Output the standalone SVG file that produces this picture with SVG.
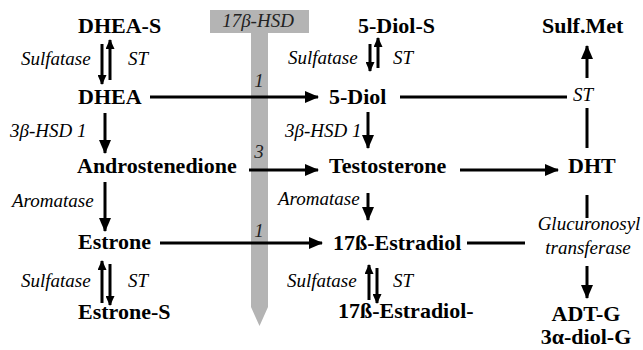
<svg xmlns="http://www.w3.org/2000/svg" width="643" height="350" viewBox="0 0 643 350">
  <defs>
    <marker id="head" markerUnits="userSpaceOnUse" markerWidth="14" markerHeight="12" refX="13" refY="6" orient="auto">
      <path d="M0,0 L14,6 L0,12 Z" fill="#000"/>
    </marker>
    <marker id="headSmall" markerUnits="userSpaceOnUse" markerWidth="10" markerHeight="9" refX="9" refY="4.5" orient="auto">
      <path d="M0,0 L10,4.5 L0,9 Z" fill="#000"/>
    </marker>
  </defs>

  <rect width="643" height="350" fill="#fff"/>

  <!-- 17beta-HSD band -->
  <g id="hsd17-band">
    <polygon points="210,10 309,10 309,33 268,33 268,307 259.5,326 251,307 251,33 210,33" fill="#b4b4b4"/>
    <text font-family="Liberation Serif" font-style="italic" font-size="19" fill="#222" text-anchor="middle" x="258" y="27">17β-HSD</text>
    <text font-family="Liberation Serif" font-style="italic" font-size="19" fill="#222" text-anchor="middle" x="259" y="87">1</text>
    <text font-family="Liberation Serif" font-style="italic" font-size="19" fill="#222" text-anchor="middle" x="259" y="158">3</text>
    <text font-family="Liberation Serif" font-style="italic" font-size="19" fill="#222" text-anchor="middle" x="259" y="237">1</text>
  </g>

  <!-- connectors -->
  <g id="connectors" stroke="#000" stroke-width="3" fill="none">
    <line marker-end="url(#head)" x1="150" y1="97" x2="318" y2="97"/>
    <line marker-end="url(#head)" x1="249" y1="170" x2="318" y2="170"/>
    <line marker-end="url(#head)" x1="160" y1="243" x2="322" y2="243"/>
    <line marker-end="url(#head)" x1="460" y1="170" x2="558" y2="170"/>
    <line x1="400" y1="97" x2="567" y2="97"/>
    <line x1="467" y1="243" x2="525" y2="243"/>
    <line marker-end="url(#head)" x1="105" y1="113" x2="105" y2="153"/>
    <line marker-end="url(#head)" x1="105" y1="182" x2="105" y2="231"/>
    <line marker-end="url(#head)" x1="368" y1="112" x2="368" y2="148"/>
    <line marker-end="url(#head)" x1="368" y1="193" x2="368" y2="220"/>
    <line marker-end="url(#head)" x1="587" y1="78" x2="587" y2="46"/>
    <line x1="587" y1="108" x2="587" y2="148"/>
    <line x1="587" y1="195" x2="587" y2="218"/>
    <line marker-end="url(#head)" x1="587" y1="266" x2="587" y2="298"/>
    <g marker-end="url(#headSmall)">
      <line x1="102" y1="44" x2="102" y2="84"/>
      <line x1="110" y1="80" x2="110" y2="40"/>
      <line x1="370" y1="44" x2="370" y2="71"/>
      <line x1="378" y1="68" x2="378" y2="38"/>
      <line x1="102" y1="303" x2="102" y2="261"/>
      <line x1="110" y1="264" x2="110" y2="305"/>
      <line x1="369" y1="300" x2="369" y2="265"/>
      <line x1="377" y1="268" x2="377" y2="303"/>
    </g>
  </g>

  <!-- enzyme labels -->
  <g id="enzymes">
    <text font-family="Liberation Serif" font-style="italic" font-size="19" x="21" y="65">Sulfatase</text>
    <text font-family="Liberation Serif" font-style="italic" font-size="19" x="128" y="65">ST</text>
    <text font-family="Liberation Serif" font-style="italic" font-size="19" x="288" y="64">Sulfatase</text>
    <text font-family="Liberation Serif" font-style="italic" font-size="19" x="393" y="64">ST</text>
    <text font-family="Liberation Serif" font-style="italic" font-size="19" x="10" y="137">3β-HSD 1</text>
    <text font-family="Liberation Serif" font-style="italic" font-size="19" x="285" y="137">3β-HSD 1</text>
    <text font-family="Liberation Serif" font-style="italic" font-size="19" x="12" y="207">Aromatase</text>
    <text font-family="Liberation Serif" font-style="italic" font-size="19" x="278" y="205">Aromatase</text>
    <text font-family="Liberation Serif" font-style="italic" font-size="19" x="21" y="287">Sulfatase</text>
    <text font-family="Liberation Serif" font-style="italic" font-size="19" x="128" y="287">ST</text>
    <text font-family="Liberation Serif" font-style="italic" font-size="19" x="287" y="287">Sulfatase</text>
    <text font-family="Liberation Serif" font-style="italic" font-size="19" x="393" y="287">ST</text>
    <text font-family="Liberation Serif" font-style="italic" font-size="19" x="573" y="101">ST</text>
    <text font-family="Liberation Serif" font-style="italic" font-size="19" x="589" y="230" text-anchor="middle">Glucuronosyl</text>
    <text font-family="Liberation Serif" font-style="italic" font-size="19" x="588" y="254" text-anchor="middle">transferase</text>
  </g>

  <!-- metabolites -->
  <g id="dhea-s"><text font-family="Liberation Serif" font-weight="bold" font-size="22" x="78" y="33">DHEA-S</text></g>
  <g id="dhea"><text font-family="Liberation Serif" font-weight="bold" font-size="22" x="78" y="104">DHEA</text></g>
  <g id="androstenedione"><text font-family="Liberation Serif" font-weight="bold" font-size="22" x="77" y="173">Androstenedione</text></g>
  <g id="estrone"><text font-family="Liberation Serif" font-weight="bold" font-size="22" x="78" y="249">Estrone</text></g>
  <g id="estrone-s"><text font-family="Liberation Serif" font-weight="bold" font-size="22" x="78" y="319">Estrone-S</text></g>
  <g id="diol-s"><text font-family="Liberation Serif" font-weight="bold" font-size="22" x="358" y="33">5-Diol-S</text></g>
  <g id="diol"><text font-family="Liberation Serif" font-weight="bold" font-size="22" x="329" y="104">5-Diol</text></g>
  <g id="testosterone"><text font-family="Liberation Serif" font-weight="bold" font-size="22" x="329" y="173">Testosterone</text></g>
  <g id="estradiol"><text font-family="Liberation Serif" font-weight="bold" font-size="22" x="333" y="250">17ß-Estradiol</text></g>
  <g id="estradiol-s"><text font-family="Liberation Serif" font-weight="bold" font-size="22" x="338" y="318">17ß-Estradiol-</text></g>
  <g id="sulf-met"><text font-family="Liberation Serif" font-weight="bold" font-size="22" x="542" y="33">Sulf.Met</text></g>
  <g id="dht"><text font-family="Liberation Serif" font-weight="bold" font-size="22" x="568" y="173">DHT</text></g>
  <g id="glucuronides">
    <text font-family="Liberation Serif" font-weight="bold" font-size="22" text-anchor="middle" x="586" y="321">ADT-G</text>
    <text font-family="Liberation Serif" font-weight="bold" font-size="22" text-anchor="middle" x="586" y="344">3α-diol-G</text>
  </g>
</svg>
